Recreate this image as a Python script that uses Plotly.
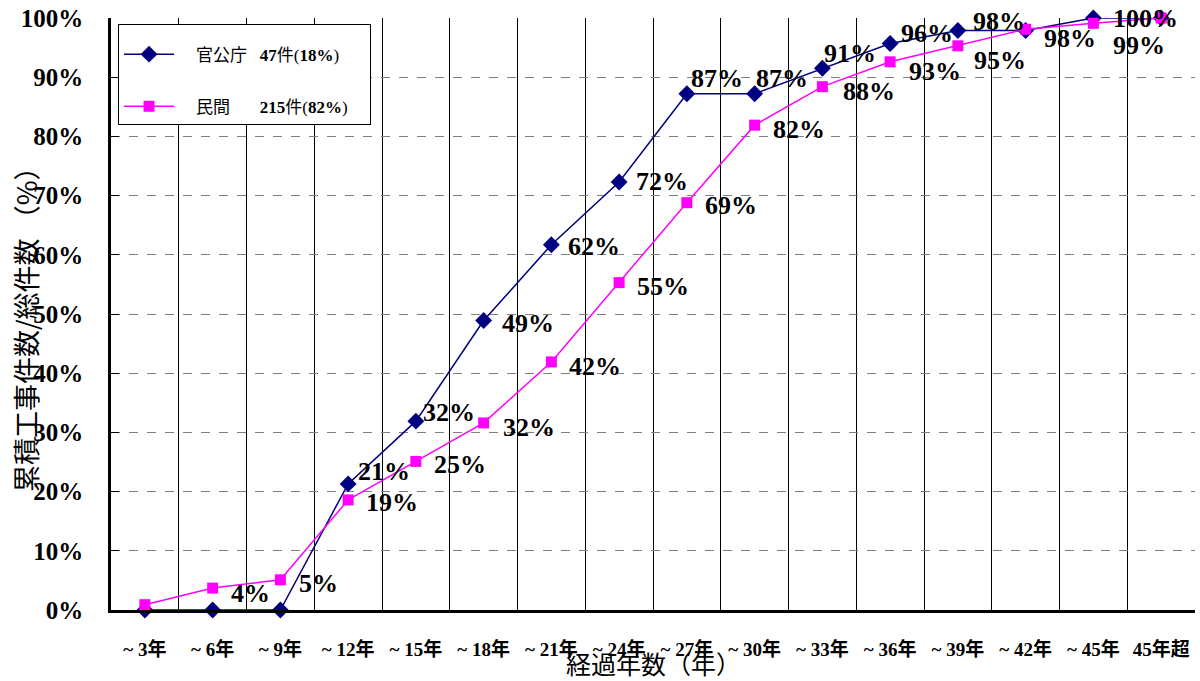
import plotly.graph_objects as go

categories = ["~ 3年", "~ 6年", "~ 9年", "~ 12年", "~ 15年", "~ 18年", "~ 21年", "~ 24年",
              "~ 27年", "~ 30年", "~ 33年", "~ 36年", "~ 39年", "~ 42年", "~ 45年", "45年超"]
gov_values = [0, 0, 0, 21.3, 31.9, 48.9, 61.7, 72.3, 87.2, 87.2, 91.5, 95.7, 97.9, 97.9, 100, 100]
priv_values = [0.9, 3.7, 5.1, 18.6, 25.1, 31.6, 41.9, 55.3, 68.8, 81.9, 88.4, 92.6, 95.3, 98.1, 99.1, 100]
gov_labels = [None, None, None, "21%", "32%", "49%", "62%", "72%", "87%", "87%", "91%", "96%", "98%", None, "100%", None]
priv_labels = [None, "4%", "5%", "19%", "25%", "32%", "42%", "55%", "69%", "82%", "88%", "93%", "95%", "98%", "99%", None]
y_tickvals = [0, 10, 20, 30, 40, 50, 60, 70, 80, 90, 100]
y_ticktext = ["0%", "10%", "20%", "30%", "40%", "50%", "60%", "70%", "80%", "90%", "100%"]

# label offsets (style only): (xshift, yshift) in px
gov_off = [None, None, None, (10, 12), (7, 9), (18, -3), (17, -2), (17, 0), (4, 15), (1, 15),
           (2, 15), (11, 10), (15, 9), None, (20, 0), None]
priv_off = [None, (18, -5), (19, -4), (18, -3), (18, -3), (19, -5), (18, -5), (18, -4), (18, -3),
            (18, -4), (21, -5), (19, -10), (16, -15), (18, -9), (20, -22), None]

SERIF = "Liberation Serif, Noto Sans CJK JP"
CJK = "Noto Sans CJK JP"
NAVY = "#000080"
MAGENTA = "#FF00FF"
SP = "&nbsp;"

fig = go.Figure()
fig.add_trace(go.Scatter(
    x=categories, y=gov_values, mode="lines+markers",
    name=SP * 4 + "官公庁" + SP * 3 + "<b>47</b>件(<b>18%</b>)" + SP * 4,
    line=dict(color=NAVY, width=1.5),
    marker=dict(symbol="diamond", size=13, color=NAVY),
    cliponaxis=False, legendgroup="g1",
))
fig.add_trace(go.Scatter(
    x=categories, y=priv_values, mode="lines+markers",
    name=SP * 4 + "民間" + SP * 7 + "<b>215</b>件(<b>82%</b>)" + SP * 4,
    line=dict(color=MAGENTA, width=1.5),
    marker=dict(symbol="square", size=11, color=MAGENTA),
    cliponaxis=False, legendgroup="g2",
))

annotations = []
for labels, vals, offs in ((gov_labels, gov_values, gov_off), (priv_labels, priv_values, priv_off)):
    for c, v, lab, off in zip(categories, vals, labels, offs):
        if lab is None:
            continue
        annotations.append(dict(
            x=c, y=v, xref="x", yref="y", text=lab, showarrow=False,
            xanchor="left", yanchor="middle", xshift=off[0] - 2, yshift=off[1],
            font=dict(family=SERIF, size=26, color="black", weight="bold"),
        ))

annotations.append(dict(
    x=0.5, y=0, xref="paper", yref="paper", text="経過年数（年）", showarrow=False,
    xanchor="center", yanchor="middle", yshift=-53,
    font=dict(family=CJK, size=25, color="black"),
))
annotations.append(dict(
    x=0, y=0.5, xref="paper", yref="paper", text="累積工事件数/総件数 （%）", showarrow=False,
    xanchor="center", yanchor="middle", xshift=-86, yshift=-9, textangle=-90,
    font=dict(family=CJK, size=27, color="black"),
))

fig.update_layout(
    width=1200, height=681,
    margin=dict(l=111, r=5, t=18, b=71),
    paper_bgcolor="white", plot_bgcolor="white",
    showlegend=True,
    legend=dict(
        x=0.0065, y=0.99, xanchor="left", yanchor="top",
        bgcolor="white", bordercolor="black", borderwidth=1,
        font=dict(family=SERIF, size=17, color="black"),
        title=dict(text=SP, font=dict(size=9)),
        traceorder="grouped", tracegroupgap=27,
        itemwidth=50,
    ),
    annotations=annotations,
)
fig.update_xaxes(
    type="category", range=[-0.5, 15.5],
    tickson="boundaries", ticks="", showgrid=True, gridcolor="black", gridwidth=1,
    showline=True, linecolor="black", linewidth=2.5,
    tickfont=dict(family=SERIF, size=19, color="black", weight="bold"),
    ticklabelstandoff=20,
)
fig.update_yaxes(
    range=[0, 100], tickvals=y_tickvals, ticktext=y_ticktext,
    showgrid=True, gridcolor="#808080", gridwidth=1, griddash="dash",
    showline=True, linecolor="black", linewidth=2.5,
    ticks="inside", ticklen=8, tickcolor="black",
    tickfont=dict(family=SERIF, size=25, color="black", weight="bold"),
    ticklabelstandoff=20, zeroline=False,
)

fig.write_html("out.html")
